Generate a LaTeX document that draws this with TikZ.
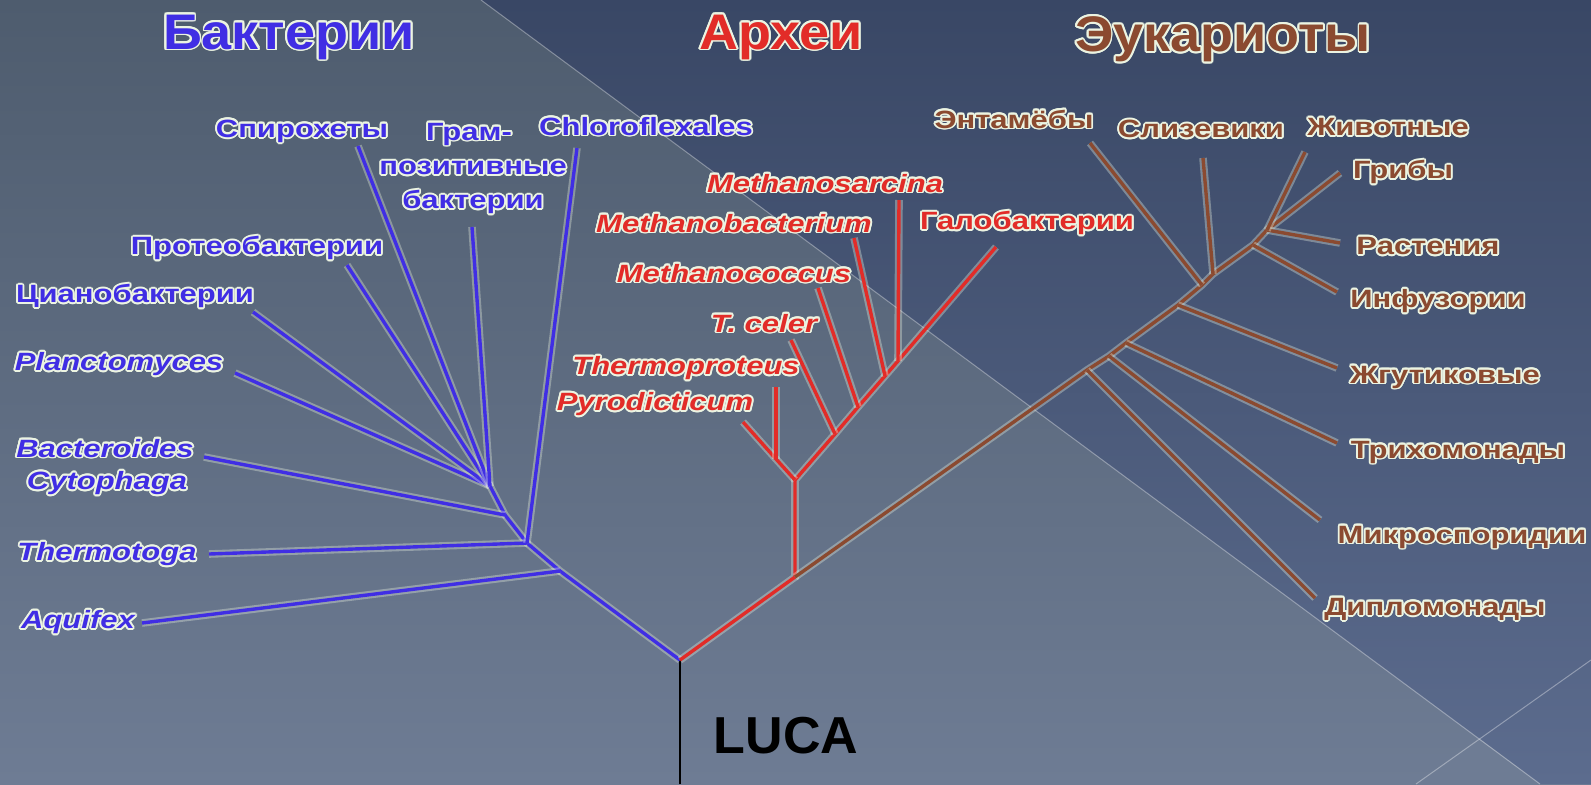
\documentclass[tikz,border=0pt]{standalone}
\usepackage{fontspec}
\setmainfont{Liberation Sans}
\newfontfamily\lblfont[FakeStretch=1.24]{Liberation Sans}
\newfontfamily\ttlfont[FakeStretch=1.08]{Liberation Sans}
\usepackage{contour}
\contourlength{0.9pt}
\contournumber{16}

\definecolor{bactc}{RGB}{64,46,228}
\definecolor{archc}{RGB}{226,44,40}
\definecolor{eukc}{RGB}{139,74,48}
\definecolor{haloc}{RGB}{236,244,226}
\definecolor{grytop}{RGB}{78,92,110}
\definecolor{grybot}{RGB}{110,124,148}
\definecolor{navtop}{RGB}{57,71,101}
\definecolor{navbot}{RGB}{92,108,142}

\newcommand{\hl}[1]{\contour{haloc}{#1}}

\tikzset{
  branch/.style={line width=1.7pt, preaction={draw=haloc, line width=3.8pt, opacity=0.35}},
  bact/.style={branch, draw=bactc},
  arch/.style={branch, draw=archc},
  euk/.style={branch, draw=eukc},
  lbl/.style={inner sep=0pt, font=\lblfont\bfseries\fontsize{12.5}{15}\selectfont},
  ilbl/.style={lbl, font=\lblfont\bfseries\itshape\fontsize{12.5}{15}\selectfont},
  ttl/.style={inner sep=0pt, font=\ttlfont\bfseries\fontsize{25}{28}\selectfont},
  bgline/.style={draw=white, opacity=0.35, line width=0.5pt}
}

\begin{document}
\begin{tikzpicture}[x=0.5pt,y=-0.5pt]
\useasboundingbox (0,0) rectangle (1591,784);
\shade[top color=grytop, bottom color=grybot] (0,0) rectangle (1591,784);
\shade[top color=navtop, bottom color=navbot] (481,0) -- (1591,0) -- (1591,784) -- (1540,784) -- cycle;
\fill[grybot] (1480,739) -- (1416,784) -- (1540,784) -- cycle;
\draw[bgline] (481,0) -- (1540,784);
\draw[bgline] (1591,660) -- (1416,784);

\node[ttl, text=bactc] (tbac) at (289,38) {\hl{Бактерии}};
\node[ttl, text=archc] (tarc) at (781,38) {\hl{Археи}};
\node[ttl, text=eukc] (teuk) at (1223,40) {\hl{Эукариоты}};

\coordinate (root) at (680,660);
\coordinate (base) at (680,784);
\node[inner sep=0pt, font=\bfseries\fontsize{26}{28}\selectfont] (luca) at (786,736) {LUCA};
\draw [line width=1pt] (base) -- (root);

\coordinate (b1) at (560,571);
\coordinate (b2) at (527,543);
\coordinate (b3) at (505,515);
\coordinate (b4) at (490,486);
\coordinate (aqu) at (142,623);
\coordinate (tmt) at (209,554);
\coordinate (bcy) at (204,457);
\coordinate (pla) at (235,373);
\coordinate (cya) at (253,312);
\coordinate (pro) at (347,265);
\coordinate (spi) at (358,146);
\coordinate (gra) at (472,227);
\coordinate (chl) at (577,148);
\node[ilbl, text=bactc] (laqu) at (78,623) {\hl{Aquifex}};
\node[ilbl, text=bactc] (ltmt) at (107,555) {\hl{Thermotoga}};
\node[ilbl, text=bactc] (lbac) at (105,449) {\hl{Bacteroides}};
\node[ilbl, text=bactc] (lcyt) at (107,484) {\hl{Cytophaga}};
\node[ilbl, text=bactc] (lpla) at (119,365) {\hl{Planctomyces}};
\node[lbl, text=bactc] (lcya) at (135,297) {\hl{Цианобактерии}};
\node[lbl, text=bactc] (lpro) at (257,249) {\hl{Протеобактерии}};
\node[lbl, text=bactc] (lspi) at (302,132) {\hl{Спирохеты}};
\node[lbl, text=bactc] (lgr1) at (469,135) {\hl{Грам-}};
\node[lbl, text=bactc] (lgr2) at (473,169) {\hl{позитивные}};
\node[lbl, text=bactc] (lgr3) at (473,203) {\hl{бактерии}};
\node[lbl, text=bactc] (lchl) at (646,127) {\hl{Chloroflexales}};
\draw [bact] (root) -- (b1) -- (b2) -- (b3) -- (b4);
\draw [bact] (b1) -- (aqu); \draw [bact] (b2) -- (tmt);
\draw [bact] (b2) -- (chl); \draw [bact] (b3) -- (bcy);
\draw [bact] (b4) -- (pla); \draw [bact] (b4) -- (cya);
\draw [bact] (b4) -- (pro); \draw [bact] (b4) -- (spi);
\draw [bact] (b4) -- (gra);

\coordinate (a1) at (795,577);
\coordinate (a2) at (795,480);
\coordinate (tpj) at (776,459);
\coordinate (pyr) at (743,422);
\coordinate (tpr) at (776,387);
\coordinate (tcj) at (835,434);
\coordinate (tce) at (791,340);
\coordinate (mcj) at (858,407);
\coordinate (mco) at (818,288);
\coordinate (mbj) at (885,376);
\coordinate (mba) at (854,238);
\coordinate (msj) at (898,361);
\coordinate (msa) at (899,200);
\coordinate (hal) at (996,247);
\node[ilbl, text=archc] (lpyr) at (655,405) {\hl{Pyrodicticum}};
\node[ilbl, text=archc] (ltpr) at (686,369) {\hl{Thermoproteus}};
\node[ilbl, text=archc] (ltce) at (764,324) {\hl{T. celer}};
\node[ilbl, text=archc] (lmco) at (734,274) {\hl{Methanococcus}};
\node[ilbl, text=archc] (lmba) at (734,224) {\hl{Methanobacterium}};
\node[ilbl, text=archc] (lmsa) at (825,184) {\hl{Methanosarcina}};
\node[lbl, text=archc] (lhal) at (1027,224) {\hl{Галобактерии}};
\draw [arch] (root) -- (a1) -- (a2) -- (tcj) -- (mcj) -- (mbj) -- (msj) -- (hal);
\draw [arch] (a2) -- (tpj) -- (pyr); \draw [arch] (tpj) -- (tpr);
\draw [arch] (tcj) -- (tce); \draw [arch] (mcj) -- (mco);
\draw [arch] (mbj) -- (mba); \draw [arch] (msj) -- (msa);

\coordinate (j1) at (1087,370);
\coordinate (j2) at (1109,356);
\coordinate (j3) at (1126,343);
\coordinate (j4) at (1178,305);
\coordinate (e1) at (1202,285);
\coordinate (e2) at (1213,274);
\coordinate (e3) at (1253,245);
\coordinate (et) at (1267,230);
\coordinate (dip) at (1315,598);
\coordinate (mic) at (1320,520);
\coordinate (tri) at (1337,443);
\coordinate (zhg) at (1337,368);
\coordinate (ent) at (1090,143);
\coordinate (sli) at (1203,158);
\coordinate (inf) at (1337,292);
\coordinate (ras) at (1340,243);
\coordinate (zhi) at (1305,152);
\coordinate (gri) at (1340,173);
\node[lbl, text=eukc] (ldip) at (1435,610) {\hl{Дипломонады}};
\node[lbl, text=eukc] (lmic) at (1462,538) {\hl{Микроспоридии}};
\node[lbl, text=eukc] (ltri) at (1458,453) {\hl{Трихомонады}};
\node[lbl, text=eukc] (lzhg) at (1445,378) {\hl{Жгутиковые}};
\node[lbl, text=eukc] (linf) at (1438,302) {\hl{Инфузории}};
\node[lbl, text=eukc] (lras) at (1428,247) {\hl{Растения}};
\node[lbl, text=eukc] (lgri) at (1403,173) {\hl{Грибы}};
\node[lbl, text=eukc] (lzhi) at (1388,128) {\hl{Животные}};
\node[lbl, text=eukc] (lsli) at (1201,130) {\hl{Слизевики}};
\node[lbl, text=eukc] (lent) at (1014,120) {\hl{Энтамёбы}};
\draw [euk] (a1) -- (j1) -- (j2) -- (j3) -- (j4) -- (e1) -- (e2) -- (e3) -- (et) -- (gri);
\draw [euk] (j1) -- (dip); \draw [euk] (j2) -- (mic);
\draw [euk] (j3) -- (tri); \draw [euk] (j4) -- (zhg);
\draw [euk] (e1) -- (ent); \draw [euk] (e2) -- (sli);
\draw [euk] (e3) -- (inf); \draw [euk] (et) -- (ras);
\draw [euk] (et) -- (zhi);
\end{tikzpicture}
\end{document}
